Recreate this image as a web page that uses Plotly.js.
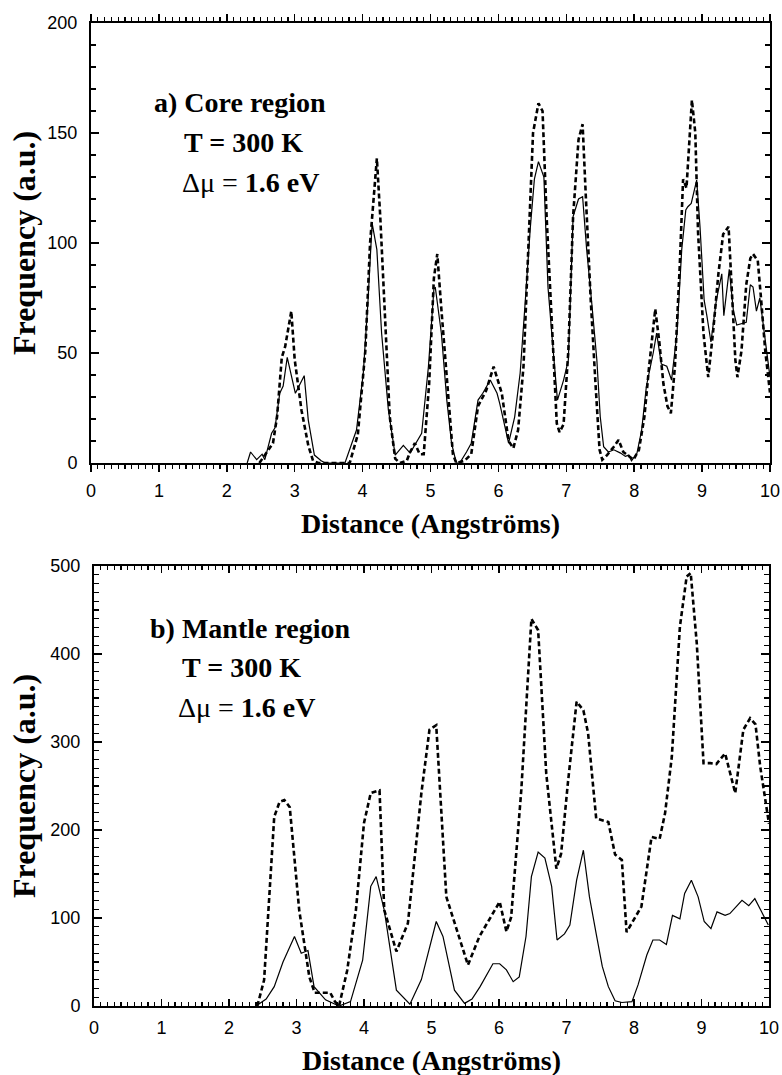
<!DOCTYPE html>
<html><head><meta charset="utf-8">
<script src="https://cdn.plot.ly/plotly-3.0.1.min.js"></script>
<style>body{margin:0;background:#fff}#chart{width:782px;height:1075px}</style>
</head><body><div id="chart"></div>
<script>
// ---- Data: a) Core region ----
const coreDashedX = [2.48,2.55,2.68,2.74,2.81,2.86,2.95,3.0,3.1,3.2,3.27,3.35,3.81,3.93,4.04,4.11,4.21,4.26,4.34,4.4,4.48,4.55,4.65,4.7,4.77,4.84,4.9,4.98,5.05,5.1,5.16,5.26,5.33,5.38,5.5,5.6,5.7,5.82,5.93,6.05,6.15,6.22,6.29,6.37,6.44,6.51,6.59,6.65,6.71,6.79,6.86,6.9,6.96,7.03,7.1,7.18,7.24,7.29,7.36,7.43,7.49,7.53,7.6,7.7,7.77,7.84,7.92,7.99,8.07,8.15,8.22,8.27,8.31,8.37,8.43,8.49,8.54,8.6,8.67,8.72,8.77,8.85,8.9,8.94,9.02,9.09,9.16,9.24,9.31,9.39,9.44,9.49,9.52,9.58,9.65,9.71,9.75,9.82,9.87,9.93,10.0];
const coreDashedY = [0,3,9,21,48,53,69,47,24,8,1,0,0,13,51,100,138.5,112,59,21,2,0,1,5,9,4,4,36,84,95,70,28.6,4,0,1,4,25.8,33,43.8,31.7,10,6.7,15,44,97,150,163.5,160,112,59,18,14,17.6,51,112,147,154,119.5,74,36,6,1.5,3.6,7.4,10.5,5,3,1.5,6,21,44,59,70,55,36,25.8,22.6,44,89,129,125,165,150,105,59,39,59,86,104,107.4,74,46.8,39,51,81,93,95,92,74,51,32];
const coreSolidX = [2.3,2.35,2.44,2.52,2.56,2.66,2.71,2.78,2.83,2.89,3.01,3.14,3.2,3.29,3.39,3.45,3.74,3.91,4.01,4.08,4.14,4.21,4.28,4.38,4.48,4.6,4.7,4.8,4.87,4.97,5.05,5.07,5.16,5.24,5.31,5.38,5.43,5.53,5.6,5.7,5.77,5.88,5.98,6.02,6.07,6.15,6.24,6.32,6.39,6.47,6.53,6.59,6.67,6.73,6.81,6.87,6.96,7.03,7.1,7.18,7.24,7.3,7.38,7.45,7.5,7.55,7.62,7.7,7.8,7.87,7.92,7.96,8.04,8.11,8.18,8.22,8.28,8.33,8.4,8.48,8.55,8.63,8.7,8.76,8.79,8.84,8.92,8.97,9.03,9.07,9.13,9.21,9.29,9.32,9.4,9.46,9.51,9.65,9.71,9.75,9.8,9.85,9.93,10.0];
const coreSolidY = [0,5,1.5,4,1.5,13.5,16,31.7,35,48,31.7,39.7,19.5,3.6,1,0,0,15,40.8,74,109,97,59,24,3.6,8,4.5,10,13.5,44,79,80,59,28.6,9,0,0,5,9,28.6,31.7,37.7,31.7,27,19.5,9,21,40.8,71,107,129,137,130,80,50,28.6,37.7,46.8,112,120,121,97,71,46.8,21,7.4,5,6,4.5,3,3.6,1,4.4,15,35,40.8,50,59,45,44,37.7,59,97,115,116.5,118,128.6,107,74,67,55,74,86,67,88,69.5,62.7,64,81,80,69,75,56,39];

// ---- Data: b) Mantle region ----
const mantleDashedX = [2.42,2.52,2.67,2.75,2.82,2.9,3.04,3.19,3.27,3.4,3.5,3.57,3.63,3.75,3.88,4.0,4.1,4.23,4.3,4.48,4.65,4.85,4.97,5.07,5.22,5.54,5.71,6.01,6.11,6.18,6.33,6.48,6.58,6.7,6.85,6.92,7.02,7.15,7.25,7.32,7.44,7.62,7.72,7.82,7.89,8.11,8.26,8.38,8.46,8.56,8.68,8.78,8.84,8.93,9.03,9.13,9.22,9.35,9.5,9.62,9.72,9.8,9.87,10.0];
const mantleDashedY = [0,29.5,215,232,234,226,109,33,15,15,15,5,0,40,109,208,242,245,109,62,94,242,314,319,124,46.6,79,118.5,84.5,101,245,440,427,264,156,173,253,346,336,310,213,209,172,166,84,113,192,190,219,283,431,488,492,412,276,276,275,287,242,314,327,320,272,207];
const mantleSolidX = [2.4,2.55,2.67,2.8,2.97,3.07,3.17,3.26,3.43,3.63,3.8,3.98,4.1,4.18,4.3,4.48,4.68,4.85,5.07,5.17,5.34,5.49,5.6,5.72,5.91,6.01,6.11,6.21,6.3,6.4,6.48,6.58,6.68,6.78,6.86,6.97,7.05,7.15,7.25,7.34,7.44,7.53,7.62,7.72,7.82,7.97,8.06,8.19,8.28,8.38,8.48,8.57,8.68,8.75,8.85,8.95,9.04,9.14,9.23,9.35,9.42,9.6,9.7,9.79,9.89,9.99];
const mantleSolidY = [0,8,22,50,79,60,63,22,7,0,5,52,136,147,109,18,2,30,96,79,18,3,8,22,48,48,41,27.6,33,79,147,175,168,136,75,82,92,143,177,124,82,45,22,6,4,5,24,58,75,75,70,103,99,128,143,124,96,88,107,103,105,120,114,122,107,92];

// ---- Text ----
const xTitle = 'Distance (Angströms)';
const yTitle = 'Frequency (a.u.)';
const panelA = ['a) Core region', 'T = 300 K', '<span style="font-weight:normal">Δμ = </span>1.6 eV'];
const panelB = ['b) Mantle region', 'T = 300 K', '<span style="font-weight:normal">Δμ = </span>1.6 eV'];

const W = 782, H = 1075;
const px = v => v / W;
const py = v => 1 - v / H;

const serifFamily = 'Liberation Serif, Times New Roman, serif';
const serif = {family: serifFamily, size: 28, color: '#000', weight: 700};
const serifY = {family: serifFamily, size: 32, color: '#000', weight: 700};
const tickFont = {family: 'Liberation Sans, Arial, sans-serif', size: 18, color: '#000'};

const solidLine = {color: '#000', width: 1.2};
const dashLine = {color: '#000', width: 2.6, dash: '5px,3px'};

const traces = [
  {x: coreSolidX, y: coreSolidY, xaxis: 'x', yaxis: 'y', mode: 'lines', line: solidLine, showlegend: false, hoverinfo: 'skip'},
  {x: coreDashedX, y: coreDashedY, xaxis: 'x', yaxis: 'y', mode: 'lines', line: dashLine, showlegend: false, hoverinfo: 'skip'},
  {x: mantleSolidX, y: mantleSolidY, xaxis: 'x2', yaxis: 'y2', mode: 'lines', line: solidLine, showlegend: false, hoverinfo: 'skip'},
  {x: mantleDashedX, y: mantleDashedY, xaxis: 'x2', yaxis: 'y2', mode: 'lines', line: dashLine, showlegend: false, hoverinfo: 'skip'}
];

const baseAx = {showgrid: false, zeroline: false, showline: true, linecolor: '#000', linewidth: 2,
  tickcolor: '#000', tickwidth: 1.5, tickfont: tickFont, fixedrange: true};

const topX = [91, 770], topY = [23, 463];
const botX = [94, 769], botY = [566, 1006];

const layout = {
  width: W, height: H,
  margin: {l: 0, r: 0, t: 0, b: 0},
  paper_bgcolor: '#fff', plot_bgcolor: '#fff',
  showlegend: false,
  xaxis: Object.assign({}, baseAx, {domain: [px(topX[0]), px(topX[1])], anchor: 'y', range: [0, 10],
    dtick: 1, tick0: 0, ticks: 'outside', ticklen: 7, ticklabelstandoff: 3, mirror: 'allticks',
    minor: {dtick: 0.1, ticklen: 4, ticks: 'outside', tickcolor: '#000', tickwidth: 1.2}}),
  yaxis: Object.assign({}, baseAx, {domain: [py(topY[1]), py(topY[0])], anchor: 'x', range: [0, 200],
    dtick: 50, tick0: 0, ticks: 'inside', ticklen: 8, mirror: 'allticks', ticklabelstandoff: 8,
    minor: {dtick: 10, ticklen: 5, ticks: 'inside', tickcolor: '#000', tickwidth: 1.2}}),
  xaxis2: Object.assign({}, baseAx, {domain: [px(botX[0]), px(botX[1])], anchor: 'y2', range: [0, 10],
    dtick: 1, tick0: 0, ticks: 'inside', ticklen: 7, mirror: 'allticks', ticklabelstandoff: 4,
    minor: {dtick: 0.1, ticklen: 4, ticks: 'inside', tickcolor: '#000', tickwidth: 1.2}}),
  yaxis2: Object.assign({}, baseAx, {domain: [py(botY[1]), py(botY[0])], anchor: 'x2', range: [0, 500],
    dtick: 100, tick0: 0, ticks: 'inside', ticklen: 8, mirror: 'allticks', ticklabelstandoff: 8,
    minor: {dtick: 10, ticklen: 5, ticks: 'inside', tickcolor: '#000', tickwidth: 1.2}}),
  annotations: []
};

function ann(text, xpx, ypx, opts) {
  return Object.assign({text: text, xref: 'paper', yref: 'paper', x: px(xpx), y: py(ypx),
    xanchor: 'left', yanchor: 'middle', showarrow: false, font: serif}, opts || {});
}

// axis titles
layout.annotations.push(ann(xTitle, (topX[0] + topX[1]) / 2, 523, {xanchor: 'center'}));
layout.annotations.push(ann(xTitle, (botX[0] + botX[1]) / 2, 1060, {xanchor: 'center'}));
layout.annotations.push(ann(yTitle, 24, (topY[0] + topY[1]) / 2, {xanchor: 'center', textangle: -90, font: serifY}));
layout.annotations.push(ann(yTitle, 24, (botY[0] + botY[1]) / 2, {xanchor: 'center', textangle: -90, font: serifY}));

// panel labels
layout.annotations.push(ann(panelA[0], 152, 102));
layout.annotations.push(ann(panelA[1], 182, 142));
layout.annotations.push(ann(panelA[2], 180, 182));
layout.annotations.push(ann(panelB[0], 148, 628));
layout.annotations.push(ann(panelB[1], 180, 667));
layout.annotations.push(ann(panelB[2], 176, 707));

Plotly.newPlot('chart', traces, layout, {staticPlot: true, displayModeBar: false});
</script>
</body></html>
